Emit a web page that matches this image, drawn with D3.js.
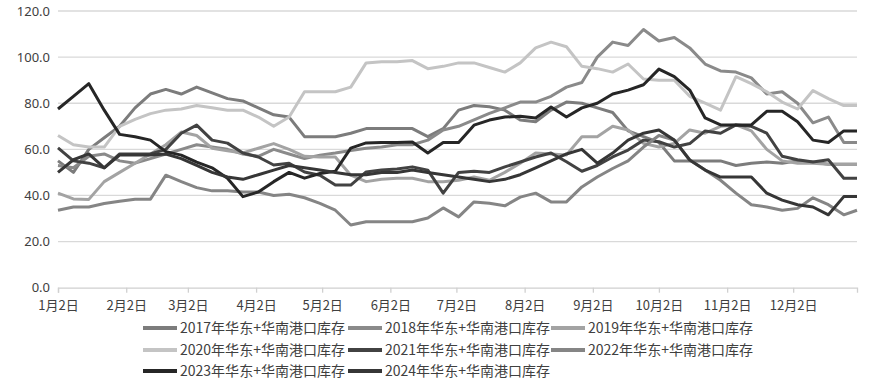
<!DOCTYPE html>
<html><head><meta charset="utf-8">
<script src="https://cdn.jsdelivr.net/npm/d3@7/dist/d3.min.js"></script>
<style>
body{margin:0;background:#fff}
text{font-family:"Noto Sans CJK SC","Noto Sans",sans-serif;fill:#404040}
</style>
</head><body>
<svg id="chart" width="871" height="384"></svg>
<script>
// weekly observation dates (month-day)
const dates = ["01-02","01-09","01-16","01-23","01-30","02-06","02-13","02-20","02-27","03-06","03-13","03-20","03-27",
"04-03","04-10","04-17","04-24","05-01","05-08","05-15","05-22","05-29","06-05","06-12","06-19","06-26",
"07-03","07-10","07-17","07-24","07-31","08-07","08-14","08-21","08-28","09-04","09-11","09-18","09-25",
"10-02","10-09","10-16","10-23","10-30","11-06","11-13","11-20","11-27","12-04","12-11","12-18","12-25","12-31"];

const seriesNames = ["2017年华东+华南港口库存","2018年华东+华南港口库存","2019年华东+华南港口库存","2020年华东+华南港口库存",
"2021年华东+华南港口库存","2022年华东+华南港口库存","2023年华东+华南港口库存","2024年华东+华南港口库存"];
const seriesColors = ["#7c7c7c","#8a8a8a","#a3a3a3","#c4c4c4","#424242","#858585","#262626","#363636"];

const v2017 = [55,50,60,65,70,78,84,86,84,87,84.5,82,81,78,75,74,65.5,65.5,65.5,67,69,69,69,69,65.5,69,77,79,78.5,77,72.7,72,77,80.5,80,78,
76,68,65.5,63,55,55,55,55,53,54,54.5,54,55,54.5,53.5,53.5,53.5];
const v2018 = [53,52,57,58,55,54,56,58,60,62,61,60,58,57,60,58,56,57.5,58.4,59.5,60.5,61,62,62,64,68.4,70,72.8,75.6,78,80.5,80.5,83,87,89,100,
106.5,105,112,107,108.5,104,97,94,93.5,91,84,85,80,71.5,74,63,63];
const v2019 = [41,38.5,38.3,46,50,54,58,62,67.5,66,60.5,59.4,58.4,60.5,62.5,60,57,56.7,56.7,48.8,46,47,47.5,47.5,46,46,46.6,48,46.6,50,54,58.4,58,57.6,65.5,65.5,
70,68.4,62.6,61,62.6,68.4,67,70,70.6,68,60,55,54,54,53.5,53.5,53.5];
const v2020 = [66,62,61,61,70,73,75.5,77,77.5,79,78,77,77,74,70,74,85,85,85,87,97.5,98,98,98.5,95,96,97.5,97.5,95.5,93.5,97.5,104,106.5,104.5,96,95,
93.5,97,90.5,90,90,83,80,77,91.5,88.5,85,80.5,77.5,85.5,82,79,79];
const v2021 = [60.6,55,54,52,58,58,58,60,67,70.5,64,62.7,58.4,56.7,53.2,54,50.2,48.8,44.5,44.5,50.2,51,51.5,52.4,51,41,50,50.5,50,52.4,54.5,56.7,58.4,54.6,50.5,53,
56.7,59.7,64,63.3,61,62.5,68,67,70.6,70,67,57,55.5,54.5,55.5,47.5,47.5];
const v2022 = [33.6,35,35,36.5,37.5,38.4,38.4,48.8,46,43.4,42,42,41.5,41.5,40,40.5,39,36.6,33.6,27.2,28.6,28.6,28.6,28.6,30.2,34.6,30.7,37.2,36.6,35.5,39.3,41,37.2,37.2,43.7,48,
51.7,55,61,66,64,55.4,51,46.6,41,36,35,33.6,34.4,39,36,31.6,33.6];
const v2023 = [77.5,83,88.5,77,66.5,65.5,64,59,57.5,54.5,52,47.5,39.5,41.5,46,50,47.5,49.5,50.5,60.5,62.8,63,63,63.2,58.4,63,63,70.5,72.7,74,74.4,73.6,78.4,74,78,80,
84,85.7,88,94.8,91.5,85.7,73.6,70.6,70.6,70.6,76.5,76.5,72,64,63,68,68];
const v2024 = [50,55.5,58,52,57.5,57.5,57.5,58,56,53,50,48,47,49,51,53,52,51,50,49,49,50,50,51,50,49,48,47,46,47,49,52,55,58,60,54,
58.4,64,67,68.4,64,55.4,51,48,48,48,41,38,36,35,31.6,39.5,39.5];

const yTicks = [0,20,40,60,80,100,120];
const xTickDates = ["01-02","02-02","03-02","04-02","05-02","06-02","07-02","08-02","09-02","10-02","11-02","12-02"];
const xTickLabels = ["1月2日","2月2日","3月2日","4月2日","5月2日","6月2日","7月2日","8月2日","9月2日","10月2日","11月2日","12月2日"];

const allValues = [v2017,v2018,v2019,v2020,v2021,v2022,v2023,v2024];
const parse = d3.timeParse("%Y-%m-%d");
const toDate = md => parse("2023-" + md);

const svg = d3.select("#chart");
const x = d3.scaleTime().domain([toDate("01-02"), toDate("12-31")]).range([58, 857]);
const y = d3.scaleLinear().domain([0,120]).range([287.7, 11]);

// gridlines
svg.append("g").selectAll("line").data(yTicks.filter(d=>d>0)).join("line")
  .attr("x1",58).attr("x2",857).attr("y1",d=>y(d)).attr("y2",d=>y(d))
  .attr("stroke","#d9d9d9").attr("stroke-width",1.3);

// y axis labels
const yAxis = d3.axisLeft(y).tickValues(yTicks).tickFormat(d3.format(".1f")).tickSize(0).tickPadding(8);
const gy = svg.append("g").attr("transform","translate(58,0)").call(yAxis);
gy.select(".domain").remove();
gy.selectAll("text").style("font-size","13px").style("font-family","'Liberation Sans Narrow','Noto Sans',sans-serif").attr("fill","#404040");

// x axis
const xAxis = d3.axisBottom(x).tickValues(xTickDates.map(toDate))
  .tickFormat((d,i)=>xTickLabels[i]).tickSize(5).tickPadding(8);
const gx = svg.append("g").attr("transform","translate(0,287.7)").call(xAxis);
gx.select(".domain").attr("stroke","#d0d0d0").attr("stroke-width",1.3);
gx.selectAll(".tick line").attr("stroke","#d0d0d0").attr("stroke-width",1.3);
gx.selectAll("text").style("font-size","13px").attr("fill","#404040");

// lines
const line = d3.line().x((d,i)=>x(toDate(dates[i]))).y(d=>y(d));
const drawOrder = [0,1,2,3,4,5,6,7];
svg.append("g").selectAll("path").data(drawOrder).join("path")
  .attr("d",k=>line(allValues[k]))
  .attr("fill","none").attr("stroke",k=>seriesColors[k])
  .attr("stroke-width",3).attr("stroke-linejoin","round");

// legend
const colX = [143,348,551];
const rowY = [328,350,371];
const lg = svg.append("g").selectAll("g").data(seriesNames).join("g")
  .attr("transform",(d,i)=>`translate(${colX[i%3]},${rowY[Math.floor(i/3)]})`);
lg.append("line").attr("x1",0).attr("x2",34).attr("y1",0).attr("y2",0)
  .attr("stroke",(d,i)=>seriesColors[i]).attr("stroke-width",4);
lg.append("text").attr("x",37).attr("y",5).text(d=>d)
  .style("font-size","14px").attr("textLength",165).attr("lengthAdjust","spacingAndGlyphs");
</script>
</body></html>
